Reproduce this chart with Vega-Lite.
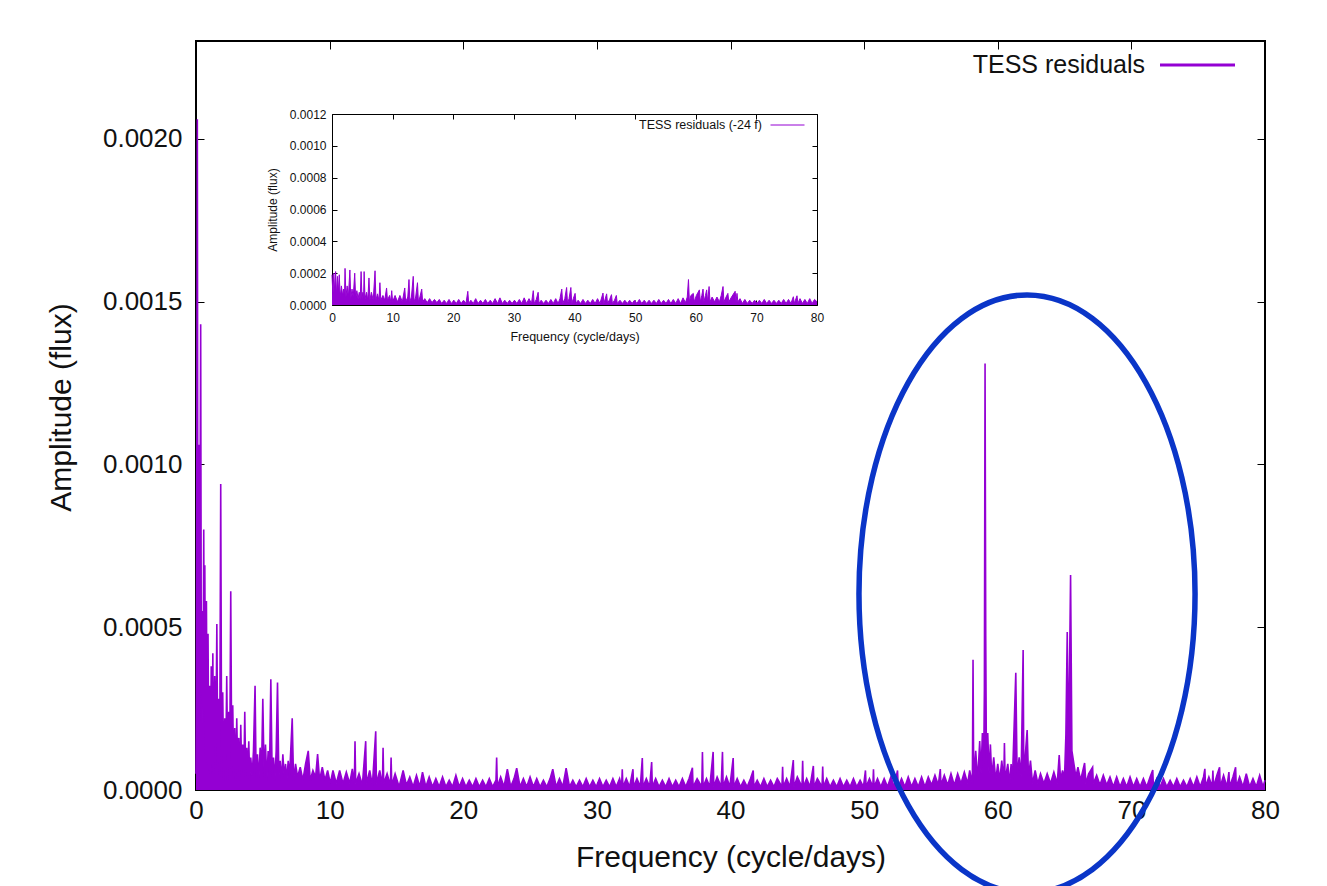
{
  "$schema": "https://vega.github.io/schema/vega-lite/v6.json",
  "width": 1069,
  "height": 749,
  "autosize": "none",
  "padding": {"left": 196, "top": 41, "right": 62, "bottom": 96},
  "background": "white",
  "config": {
    "font": "Liberation Sans",
    "view": {"stroke": "#000", "strokeWidth": 2},
    "axis": {"grid": false, "domain": false, "tickColor": "#000", "tickWidth": 1, "labelColor": "#111", "titleColor": "#111", "labelFont": "Liberation Sans", "titleFont": "Liberation Sans", "titleFontWeight": "normal", "labelOverlap": false, "labelFlush": false, "domainColor": "#000", "domainWidth": 1}
  },
  "datasets": {
    "main": [
      {"f":0,"a":5e-5},{"f":0.03,"a":30e-5},{"f":0.1,"a":206e-5},{"f":0.15,"a":25e-5},{"f":0.2,"a":106e-5},{"f":0.24,"a":20e-5},{"f":0.3,"a":80e-5},{"f":0.35,"a":143e-5},{"f":0.4,"a":30e-5},{"f":0.46,"a":55e-5},{"f":0.52,"a":20e-5},{"f":0.58,"a":80e-5},{"f":0.62,"a":25e-5},{"f":0.66,"a":69e-5},{"f":0.72,"a":10e-5},{"f":0.78,"a":58e-5},{"f":0.84,"a":8e-5},{"f":0.9,"a":48e-5},{"f":0.96,"a":6e-5},{"f":1.02,"a":32e-5},{"f":1.08,"a":5e-5},{"f":1.14,"a":38e-5},{"f":1.2,"a":8e-5},{"f":1.26,"a":42e-5},{"f":1.32,"a":5e-5},{"f":1.4,"a":35e-5},{"f":1.48,"a":9e-5},{"f":1.56,"a":51e-5},{"f":1.63,"a":7e-5},{"f":1.7,"a":28e-5},{"f":1.77,"a":4e-5},{"f":1.85,"a":94e-5},{"f":1.92,"a":6e-5},{"f":2,"a":30e-5},{"f":2.08,"a":3e-5},{"f":2.15,"a":22e-5},{"f":2.22,"a":5e-5},{"f":2.3,"a":35e-5},{"f":2.38,"a":3e-5},{"f":2.45,"a":24e-5},{"f":2.52,"a":6e-5},{"f":2.6,"a":61e-5},{"f":2.68,"a":4e-5},{"f":2.75,"a":26e-5},{"f":2.82,"a":5e-5},{"f":2.9,"a":19e-5},{"f":2.98,"a":3e-5},{"f":3.05,"a":22e-5},{"f":3.12,"a":6e-5},{"f":3.2,"a":16e-5},{"f":3.28,"a":3e-5},{"f":3.35,"a":20e-5},{"f":3.42,"a":5e-5},{"f":3.5,"a":14e-5},{"f":3.58,"a":4e-5},{"f":3.65,"a":24e-5},{"f":3.72,"a":4e-5},{"f":3.8,"a":13e-5},{"f":3.88,"a":5e-5},{"f":3.95,"a":15e-5},{"f":4.02,"a":3e-5},{"f":4.1,"a":10e-5},{"f":4.2,"a":4e-5},{"f":4.3,"a":12e-5},{"f":4.42,"a":32e-5},{"f":4.5,"a":4e-5},{"f":4.6,"a":11e-5},{"f":4.7,"a":3e-5},{"f":4.8,"a":13e-5},{"f":4.9,"a":5e-5},{"f":5,"a":28e-5},{"f":5.1,"a":4e-5},{"f":5.2,"a":14e-5},{"f":5.3,"a":3e-5},{"f":5.4,"a":12e-5},{"f":5.5,"a":5e-5},{"f":5.6,"a":34e-5},{"f":5.7,"a":4e-5},{"f":5.8,"a":10e-5},{"f":5.9,"a":3e-5},{"f":6,"a":12e-5},{"f":6.1,"a":33e-5},{"f":6.2,"a":4e-5},{"f":6.3,"a":9e-5},{"f":6.4,"a":3e-5},{"f":6.5,"a":11e-5},{"f":6.6,"a":4e-5},{"f":6.7,"a":8e-5},{"f":6.8,"a":3e-5},{"f":6.9,"a":9e-5},{"f":7,"a":4e-5},{"f":7.2,"a":22e-5},{"f":7.3,"a":3e-5},{"f":7.45,"a":8e-5},{"f":7.6,"a":4e-5},{"f":7.8,"a":7e-5},{"f":8,"a":3e-5},{"f":8.2,"a":8e-5},{"f":8.4,"a":12e-5},{"f":8.55,"a":3e-5},{"f":8.75,"a":6e-5},{"f":8.95,"a":4e-5},{"f":9.1,"a":11e-5},{"f":9.25,"a":3e-5},{"f":9.45,"a":7e-5},{"f":9.65,"a":3e-5},{"f":9.85,"a":6e-5},{"f":10.05,"a":2e-5},{"f":10.25,"a":6e-5},
      {"f":10.5,"a":2e-5},{"f":10.75,"a":6e-5},{"f":11,"a":2e-5},{"f":11.25,"a":5.5e-5},{"f":11.5,"a":2e-5},{"f":11.7,"a":6.5e-5},{"f":11.85,"a":2e-5},{"f":11.9,"a":15e-5},{"f":11.95,"a":2e-5},{"f":12.2,"a":5e-5},{"f":12.45,"a":1.5e-5},{"f":12.7,"a":15e-5},{"f":12.75,"a":2e-5},{"f":13,"a":6e-5},{"f":13.2,"a":1.5e-5},{"f":13.45,"a":18e-5},{"f":13.5,"a":2e-5},{"f":13.75,"a":6e-5},{"f":13.95,"a":1.5e-5},{"f":14,"a":13e-5},{"f":14.05,"a":2e-5},{"f":14.3,"a":5e-5},{"f":14.55,"a":1.5e-5},{"f":14.6,"a":10e-5},{"f":14.65,"a":1.5e-5},{"f":14.9,"a":5e-5},{"f":15.2,"a":1e-5},{"f":15.5,"a":6e-5},{"f":15.75,"a":1.5e-5},{"f":16,"a":4e-5},{"f":16.25,"a":1e-5},{"f":16.5,"a":4.5e-5},{"f":16.75,"a":1e-5},{"f":16.95,"a":5.5e-5},{"f":17.2,"a":1e-5},{"f":17.45,"a":4e-5},{"f":17.7,"a":1e-5},{"f":17.95,"a":3.5e-5},{"f":18.2,"a":1e-5},{"f":18.45,"a":4e-5},{"f":18.7,"a":1e-5},{"f":18.95,"a":3e-5},{"f":19.2,"a":1e-5},{"f":19.45,"a":4.5e-5},{"f":19.7,"a":1e-5},{"f":19.95,"a":3.5e-5},{"f":20.2,"a":1e-5},{"f":20.45,"a":3e-5},{"f":20.7,"a":1e-5},{"f":20.95,"a":3.5e-5},{"f":21.2,"a":1e-5},{"f":21.45,"a":3e-5},{"f":21.7,"a":1e-5},{"f":21.95,"a":3.5e-5},{"f":22.2,"a":1e-5},{"f":22.45,"a":3e-5},{"f":22.5,"a":10e-5},{"f":22.55,"a":1e-5},{"f":22.8,"a":4e-5},{"f":23.05,"a":1e-5},{"f":23.3,"a":6.4e-5},{"f":23.55,"a":1e-5},{"f":23.8,"a":3.5e-5},{"f":24,"a":6.7e-5},{"f":24.25,"a":1e-5},{"f":24.5,"a":3.5e-5},{"f":24.75,"a":1e-5},{"f":25,"a":4e-5},{"f":25.25,"a":1e-5},{"f":25.5,"a":3.5e-5},{"f":25.75,"a":1e-5},{"f":26,"a":3e-5},{"f":26.25,"a":1e-5},{"f":26.5,"a":3.5e-5},{"f":26.7,"a":6.4e-5},{"f":26.95,"a":1e-5},{"f":27.2,"a":3.5e-5},{"f":27.45,"a":1e-5},{"f":27.7,"a":6.7e-5},{"f":27.95,"a":1e-5},{"f":28.2,"a":3e-5},{"f":28.45,"a":1e-5},{"f":28.7,"a":3e-5},{"f":28.95,"a":1e-5},{"f":29.2,"a":3.5e-5},{"f":29.45,"a":1e-5},{"f":29.7,"a":3e-5},{"f":29.95,"a":1e-5},{"f":30.2,"a":3.5e-5},{"f":30.45,"a":1e-5},{"f":30.7,"a":3e-5},{"f":30.95,"a":1e-5},{"f":31.2,"a":3.5e-5},{"f":31.45,"a":1e-5},{"f":31.7,"a":3.5e-5},{"f":31.85,"a":1e-5},{"f":31.9,"a":6.4e-5},{"f":31.95,"a":1e-5},{"f":32.2,"a":3.5e-5},{"f":32.45,"a":1e-5},{"f":32.7,"a":6.4e-5},{"f":32.75,"a":1e-5},{"f":33,"a":3.5e-5},{"f":33.25,"a":1e-5},{"f":33.4,"a":9.8e-5},{"f":33.45,"a":1e-5},{"f":33.7,"a":3.5e-5},{"f":33.95,"a":1e-5},{"f":34.1,"a":8.6e-5},{"f":34.15,"a":1e-5},{"f":34.4,"a":3.5e-5},{"f":34.65,"a":1e-5},{"f":34.9,"a":3e-5},{"f":35.15,"a":1e-5},{"f":35.4,"a":3.5e-5},{"f":35.65,"a":1e-5},{"f":35.9,"a":3e-5},{"f":36.15,"a":1e-5},{"f":36.4,"a":3.5e-5},{"f":36.65,"a":1e-5},{"f":36.9,"a":3.5e-5},{"f":37.15,"a":6.8e-5},{"f":37.2,"a":1e-5},{"f":37.5,"a":3.5e-5},{"f":37.85,"a":1e-5},{"f":37.9,"a":11.7e-5},{"f":37.95,"a":1e-5},{"f":38.2,"a":3.5e-5},{"f":38.45,"a":1e-5},{"f":38.7,"a":11.7e-5},{"f":38.75,"a":1e-5},{"f":39,"a":4e-5},{"f":39.3,"a":1e-5},{"f":39.4,"a":11.7e-5},{"f":39.45,"a":1e-5},{"f":39.7,"a":4e-5},{"f":39.95,"a":1e-5},{"f":40.2,"a":9.8e-5},{"f":40.25,"a":1e-5},{"f":40.5,"a":3.5e-5},{"f":40.75,"a":1e-5},{"f":41,"a":3e-5},{"f":41.25,"a":1e-5},{"f":41.5,"a":3.5e-5},{"f":41.7,"a":6e-5},{"f":41.75,"a":1e-5},{"f":42,"a":3e-5},{"f":42.25,"a":1e-5},{"f":42.5,"a":3.5e-5},{"f":42.75,"a":1e-5},{"f":43,"a":3e-5},{"f":43.25,"a":1e-5},{"f":43.5,"a":3.5e-5},{"f":43.85,"a":1e-5},{"f":43.9,"a":7.1e-5},{"f":43.95,"a":1e-5},{"f":44.2,"a":3.5e-5},{"f":44.45,"a":1e-5},{"f":44.7,"a":9.2e-5},{"f":44.75,"a":1e-5},{"f":45,"a":4e-5},{"f":45.35,"a":1e-5},{"f":45.4,"a":9e-5},{"f":45.45,"a":1e-5},{"f":45.7,"a":3.5e-5},{"f":45.95,"a":1e-5},{"f":46.2,"a":7.4e-5},{"f":46.25,"a":1e-5},{"f":46.5,"a":3.5e-5},{"f":46.85,"a":1e-5},{"f":46.9,"a":7.2e-5},{"f":46.95,"a":1e-5},{"f":47.2,"a":3.5e-5},{"f":47.45,"a":1e-5},{"f":47.7,"a":3e-5},{"f":47.95,"a":1e-5},{"f":48.2,"a":3.5e-5},{"f":48.45,"a":1e-5},{"f":48.7,"a":3e-5},{"f":48.95,"a":1e-5},{"f":49.2,"a":3.5e-5},{"f":49.45,"a":1e-5},{"f":49.7,"a":3e-5},{"f":49.95,"a":1e-5},{"f":50.1,"a":6e-5},{"f":50.15,"a":1e-5},{"f":50.4,"a":3.5e-5},{"f":50.65,"a":1e-5},{"f":50.7,"a":6.4e-5},{"f":50.75,"a":1e-5},{"f":51,"a":3.5e-5},{"f":51.25,"a":1e-5},{"f":51.5,"a":3.5e-5},{"f":51.75,"a":1e-5},{"f":52,"a":4e-5},{"f":52.25,"a":1e-5},{"f":52.5,"a":6e-5},{"f":52.55,"a":1e-5},{"f":52.8,"a":3.5e-5},{"f":53.05,"a":1e-5},{"f":53.3,"a":4e-5},{"f":53.55,"a":1e-5},{"f":53.8,"a":3.5e-5},{"f":54.05,"a":1e-5},{"f":54.3,"a":4e-5},{"f":54.55,"a":1e-5},{"f":54.8,"a":4e-5},{"f":55.05,"a":1.5e-5},{"f":55.3,"a":4.5e-5},{"f":55.55,"a":1.5e-5},{"f":55.7,"a":6.4e-5},{"f":55.75,"a":1.5e-5},{"f":56,"a":4.5e-5},{"f":56.25,"a":1.5e-5},{"f":56.5,"a":5e-5},{"f":56.75,"a":1.5e-5},{"f":57,"a":5e-5},{"f":57.25,"a":2e-5},{"f":57.5,"a":5.5e-5},{"f":57.75,"a":2e-5},{"f":57.9,"a":6e-5},{"f":58.1,"a":2e-5},{"f":58.15,"a":40e-5},{"f":58.2,"a":3e-5},{"f":58.35,"a":12e-5},{"f":58.5,"a":3e-5},{"f":58.65,"a":15e-5},{"f":58.75,"a":5e-5},{"f":58.85,"a":17.5e-5},{"f":58.95,"a":8e-5},{"f":59,"a":31e-5},{"f":59.05,"a":131e-5},{"f":59.1,"a":47.6e-5},{"f":59.15,"a":10e-5},{"f":59.25,"a":17.5e-5},{"f":59.35,"a":5e-5},{"f":59.45,"a":14e-5},{"f":59.55,"a":4e-5},{"f":59.7,"a":10e-5},{"f":59.85,"a":3e-5},{"f":60,"a":8e-5},{"f":60.15,"a":3e-5},{"f":60.3,"a":9e-5},{"f":60.45,"a":3e-5},{"f":60.5,"a":14.4e-5},{"f":60.55,"a":3e-5},{"f":60.75,"a":8e-5},{"f":60.9,"a":2e-5},{"f":61,"a":8e-5},{"f":61.1,"a":3e-5},{"f":61.35,"a":36e-5},{"f":61.45,"a":4e-5},{"f":61.6,"a":10e-5},{"f":61.75,"a":4e-5},{"f":61.9,"a":43e-5},{"f":61.95,"a":5e-5},{"f":62.05,"a":10e-5},{"f":62.2,"a":18.4e-5},{"f":62.3,"a":4e-5},{"f":62.45,"a":9e-5},{"f":62.6,"a":2e-5},{"f":62.8,"a":6e-5},{"f":63,"a":2e-5},{"f":63.2,"a":5e-5},{"f":63.45,"a":2e-5},{"f":63.7,"a":5e-5},{"f":63.95,"a":2e-5},{"f":64.2,"a":5.5e-5},{"f":64.45,"a":2e-5},{"f":64.6,"a":10.7e-5},{"f":64.7,"a":3e-5},{"f":64.85,"a":6e-5},{"f":65,"a":4e-5},{"f":65.1,"a":17e-5},{"f":65.2,"a":48.5e-5},{"f":65.3,"a":10e-5},{"f":65.45,"a":66e-5},{"f":65.55,"a":12e-5},{"f":65.7,"a":8e-5},{"f":65.85,"a":4e-5},{"f":66,"a":7e-5},{"f":66.2,"a":3e-5},{"f":66.5,"a":8.3e-5},{"f":66.6,"a":2e-5},{"f":66.8,"a":5e-5},{"f":67.1,"a":7e-5},{"f":67.15,"a":2e-5},{"f":67.4,"a":4.5e-5},{"f":67.65,"a":1.5e-5},{"f":67.9,"a":4.5e-5},{"f":68.15,"a":1.5e-5},{"f":68.4,"a":4e-5},{"f":68.65,"a":1e-5},{"f":68.9,"a":4e-5},{"f":69.15,"a":1e-5},{"f":69.4,"a":3.5e-5},{"f":69.65,"a":1e-5},{"f":69.9,"a":4e-5},{"f":70.15,"a":1e-5},{"f":70.4,"a":3.5e-5},{"f":70.65,"a":1e-5},{"f":70.9,"a":3.5e-5},{"f":71.15,"a":1e-5},{"f":71.4,"a":4e-5},{"f":71.6,"a":6.1e-5},{"f":71.65,"a":1e-5},{"f":71.9,"a":3.5e-5},{"f":72.15,"a":1e-5},{"f":72.4,"a":3.5e-5},{"f":72.65,"a":1e-5},{"f":72.9,"a":3e-5},{"f":73.15,"a":1e-5},{"f":73.4,"a":3.5e-5},{"f":73.65,"a":1e-5},{"f":73.9,"a":3e-5},{"f":74.15,"a":1e-5},{"f":74.4,"a":3.5e-5},{"f":74.65,"a":1e-5},{"f":74.9,"a":4e-5},{"f":75.15,"a":1e-5},{"f":75.4,"a":4e-5},{"f":75.5,"a":6.5e-5},{"f":75.55,"a":1e-5},{"f":75.8,"a":4e-5},{"f":76.05,"a":1e-5},{"f":76.1,"a":6e-5},{"f":76.15,"a":1e-5},{"f":76.4,"a":4.5e-5},{"f":76.6,"a":7e-5},{"f":76.65,"a":1e-5},{"f":76.9,"a":4.5e-5},{"f":77.15,"a":1e-5},{"f":77.3,"a":5.5e-5},{"f":77.35,"a":1e-5},{"f":77.6,"a":4e-5},{"f":77.8,"a":7e-5},{"f":77.85,"a":1e-5},{"f":78.1,"a":4e-5},{"f":78.35,"a":1e-5},{"f":78.6,"a":5e-5},{"f":78.85,"a":1e-5},{"f":79.1,"a":3.5e-5},{"f":79.35,"a":1e-5},{"f":79.6,"a":4.5e-5},{"f":79.85,"a":1e-5},{"f":80,"a":3e-5}
    ],
    "inset": [
      {"f":0,"a":19e-5},{"f":0.15,"a":6e-5},{"f":0.3,"a":20e-5},{"f":0.45,"a":8e-5},{"f":0.6,"a":21e-5},{"f":0.75,"a":6e-5},{"f":0.9,"a":18e-5},{"f":1.05,"a":8e-5},{"f":1.2,"a":19e-5},{"f":1.35,"a":5e-5},{"f":1.55,"a":12e-5},{"f":1.75,"a":6e-5},{"f":1.9,"a":10e-5},{"f":2.05,"a":4e-5},{"f":2.15,"a":23e-5},{"f":2.3,"a":5e-5},{"f":2.5,"a":12e-5},{"f":2.7,"a":5e-5},{"f":2.95,"a":22e-5},{"f":3.1,"a":4e-5},{"f":3.3,"a":10e-5},{"f":3.5,"a":5e-5},{"f":3.75,"a":20e-5},{"f":3.9,"a":4e-5},{"f":4.1,"a":9e-5},{"f":4.3,"a":4e-5},{"f":4.5,"a":8e-5},{"f":4.65,"a":3e-5},{"f":4.8,"a":21e-5},{"f":4.95,"a":4e-5},{"f":5.1,"a":8e-5},{"f":5.2,"a":3e-5},{"f":5.3,"a":21e-5},{"f":5.45,"a":4e-5},{"f":5.7,"a":8e-5},{"f":5.9,"a":3e-5},{"f":6.1,"a":17e-5},{"f":6.25,"a":3e-5},{"f":6.5,"a":8e-5},{"f":6.8,"a":3e-5},{"f":7.1,"a":21.5e-5},{"f":7.25,"a":3e-5},{"f":7.5,"a":7e-5},{"f":7.75,"a":3e-5},{"f":7.9,"a":14e-5},{"f":8.05,"a":3e-5},{"f":8.4,"a":6e-5},{"f":8.7,"a":3e-5},{"f":9,"a":10.7e-5},{"f":9.15,"a":3e-5},{"f":9.5,"a":6e-5},{"f":9.7,"a":2e-5},{"f":9.85,"a":9e-5},{"f":10,"a":2e-5},{"f":10.4,"a":6e-5},{"f":10.8,"a":2e-5},{"f":11.2,"a":6e-5},{"f":11.6,"a":2e-5},{"f":12,"a":10.7e-5},{"f":12.15,"a":2e-5},{"f":12.5,"a":5e-5},{"f":12.7,"a":16e-5},{"f":12.85,"a":2e-5},{"f":13.1,"a":5e-5},{"f":13.4,"a":18e-5},{"f":13.55,"a":2e-5},{"f":13.8,"a":5e-5},{"f":14.1,"a":14e-5},{"f":14.25,"a":2e-5},{"f":14.5,"a":5e-5},{"f":14.8,"a":10e-5},{"f":14.95,"a":2e-5},{"f":15.3,"a":4e-5},{"f":15.7,"a":1.5e-5},{"f":16.1,"a":4e-5},{"f":16.5,"a":1.5e-5},{"f":16.9,"a":3.5e-5},{"f":17.3,"a":1.5e-5},{"f":17.7,"a":3.5e-5},{"f":18.1,"a":1e-5},{"f":18.5,"a":3e-5},{"f":18.9,"a":1e-5},{"f":19.3,"a":3.5e-5},{"f":19.7,"a":1e-5},{"f":20.1,"a":3e-5},{"f":20.5,"a":1e-5},{"f":20.9,"a":3.5e-5},{"f":21.3,"a":1e-5},{"f":21.7,"a":3e-5},{"f":22.1,"a":1e-5},{"f":22.4,"a":8.6e-5},{"f":22.55,"a":1e-5},{"f":22.9,"a":3e-5},{"f":23.3,"a":1e-5},{"f":23.7,"a":4e-5},{"f":24.1,"a":1e-5},{"f":24.5,"a":3e-5},{"f":24.9,"a":1e-5},{"f":25.3,"a":3.5e-5},{"f":25.7,"a":1e-5},{"f":26.1,"a":3e-5},{"f":26.5,"a":1e-5},{"f":26.9,"a":4e-5},{"f":27.3,"a":1e-5},{"f":27.7,"a":4.5e-5},{"f":28.1,"a":1e-5},{"f":28.5,"a":3e-5},{"f":28.9,"a":1e-5},{"f":29.3,"a":3e-5},{"f":29.7,"a":1e-5},{"f":30.1,"a":3e-5},{"f":30.5,"a":1e-5},{"f":30.9,"a":3.5e-5},{"f":31.3,"a":1e-5},{"f":31.7,"a":4.5e-5},{"f":32.1,"a":1e-5},{"f":32.5,"a":4e-5},{"f":32.9,"a":1e-5},{"f":33.2,"a":9e-5},{"f":33.35,"a":1e-5},{"f":33.7,"a":3.5e-5},{"f":34,"a":8e-5},{"f":34.15,"a":1e-5},{"f":34.5,"a":3e-5},{"f":34.9,"a":1e-5},{"f":35.3,"a":3e-5},{"f":35.7,"a":1e-5},{"f":36.1,"a":3.5e-5},{"f":36.5,"a":1e-5},{"f":36.9,"a":4e-5},{"f":37.3,"a":1e-5},{"f":37.6,"a":4e-5},{"f":37.9,"a":10e-5},{"f":38.05,"a":1e-5},{"f":38.4,"a":4e-5},{"f":38.7,"a":11e-5},{"f":38.85,"a":1e-5},{"f":39.1,"a":4e-5},{"f":39.4,"a":11e-5},{"f":39.55,"a":1e-5},{"f":39.8,"a":4e-5},{"f":40.1,"a":7.3e-5},{"f":40.25,"a":1e-5},{"f":40.6,"a":3e-5},{"f":41,"a":1e-5},{"f":41.4,"a":3.5e-5},{"f":41.8,"a":1e-5},{"f":42.2,"a":3e-5},{"f":42.6,"a":1e-5},{"f":43,"a":3.5e-5},{"f":43.4,"a":1e-5},{"f":43.8,"a":4e-5},{"f":44.2,"a":1e-5},{"f":44.7,"a":7.5e-5},{"f":44.85,"a":1e-5},{"f":45.3,"a":7e-5},{"f":45.45,"a":1e-5},{"f":45.8,"a":3.5e-5},{"f":46.1,"a":6.5e-5},{"f":46.25,"a":1e-5},{"f":46.6,"a":3e-5},{"f":46.9,"a":6e-5},{"f":47.05,"a":1e-5},{"f":47.5,"a":3e-5},{"f":47.9,"a":1e-5},{"f":48.3,"a":3e-5},{"f":48.7,"a":1e-5},{"f":49.1,"a":3e-5},{"f":49.5,"a":1e-5},{"f":49.9,"a":3e-5},{"f":50.3,"a":1e-5},{"f":50.7,"a":3.5e-5},{"f":51.1,"a":1e-5},{"f":51.5,"a":3e-5},{"f":51.9,"a":1e-5},{"f":52.3,"a":3e-5},{"f":52.7,"a":1e-5},{"f":53.1,"a":3e-5},{"f":53.5,"a":1e-5},{"f":53.9,"a":3.5e-5},{"f":54.3,"a":1e-5},{"f":54.7,"a":3e-5},{"f":55.1,"a":1e-5},{"f":55.5,"a":3.5e-5},{"f":55.9,"a":1e-5},{"f":56.3,"a":3.5e-5},{"f":56.7,"a":1e-5},{"f":57.1,"a":4e-5},{"f":57.5,"a":1e-5},{"f":57.9,"a":4.5e-5},{"f":58.3,"a":1.5e-5},{"f":58.6,"a":5e-5},{"f":58.8,"a":16e-5},{"f":58.95,"a":2e-5},{"f":59.2,"a":6e-5},{"f":59.6,"a":7.3e-5},{"f":59.75,"a":2e-5},{"f":60.1,"a":6e-5},{"f":60.6,"a":9.5e-5},{"f":60.75,"a":2e-5},{"f":61,"a":6e-5},{"f":61.2,"a":10e-5},{"f":61.35,"a":2e-5},{"f":61.6,"a":6e-5},{"f":61.8,"a":9.5e-5},{"f":61.95,"a":2e-5},{"f":62.2,"a":11.6e-5},{"f":62.35,"a":2e-5},{"f":62.7,"a":5e-5},{"f":63.1,"a":2e-5},{"f":63.5,"a":5e-5},{"f":63.9,"a":2e-5},{"f":64.2,"a":6e-5},{"f":64.5,"a":11.6e-5},{"f":64.65,"a":2e-5},{"f":65,"a":5e-5},{"f":65.3,"a":7.3e-5},{"f":65.45,"a":2e-5},{"f":65.9,"a":5e-5},{"f":66.5,"a":8.6e-5},{"f":66.65,"a":2e-5},{"f":66.8,"a":7.3e-5},{"f":66.95,"a":2e-5},{"f":67.3,"a":4e-5},{"f":67.7,"a":1e-5},{"f":68.1,"a":3.5e-5},{"f":68.5,"a":1e-5},{"f":68.9,"a":3e-5},{"f":69.3,"a":1e-5},{"f":69.7,"a":3e-5},{"f":70.1,"a":1e-5},{"f":70.5,"a":3e-5},{"f":70.9,"a":1e-5},{"f":71.3,"a":3.5e-5},{"f":71.7,"a":1e-5},{"f":72.1,"a":3e-5},{"f":72.5,"a":1e-5},{"f":72.9,"a":3e-5},{"f":73.3,"a":1e-5},{"f":73.7,"a":3e-5},{"f":74.1,"a":1e-5},{"f":74.5,"a":3.5e-5},{"f":74.9,"a":1e-5},{"f":75.3,"a":3.5e-5},{"f":75.7,"a":1e-5},{"f":76.1,"a":5.2e-5},{"f":76.25,"a":1e-5},{"f":76.7,"a":5.8e-5},{"f":76.85,"a":1e-5},{"f":77.2,"a":4e-5},{"f":77.6,"a":1e-5},{"f":78,"a":3.5e-5},{"f":78.4,"a":1e-5},{"f":78.8,"a":4e-5},{"f":79.2,"a":1e-5},{"f":79.6,"a":3.5e-5},{"f":80,"a":2e-5}
    ]
  },
  "resolve": {
    "scale": {"x": "independent", "y": "independent", "color": "independent"},
    "axis": {"x": "independent", "y": "independent"},
    "legend": {"color": "independent"}
  },
  "layer": [
    {
      "data": {"name": "main"},
      "mark": {"type": "area", "color": "#9400d3"},
      "encoding": {
        "x": {"field": "f", "type": "quantitative", "scale": {"domain": [0, 80], "nice": false, "zero": false}, "axis": null},
        "y": {"field": "a", "type": "quantitative", "scale": {"domain": [0, 0.0023], "nice": false}, "axis": null}
      }
    },
    {
      "data": {"name": "main"},
      "mark": {"type": "line", "strokeWidth": 1.6},
      "encoding": {
        "x": {"field": "f", "type": "quantitative", "scale": {"domain": [0, 80], "nice": false, "zero": false},
          "axis": {"orient": "bottom", "values": [0, 10, 20, 30, 40, 50, 60, 70, 80], "tickSize": -8, "labelPadding": 15, "labelFontSize": 26, "title": "Frequency (cycle/days)", "titleFontSize": 30, "titleY": 76, "titleBaseline": "alphabetic"}},
        "y": {"field": "a", "type": "quantitative", "scale": {"domain": [0, 0.0023], "nice": false},
          "axis": {"orient": "left", "values": [0, 0.0005, 0.001, 0.0015, 0.002], "format": ".4f", "tickSize": -8, "labelPadding": 22, "labelFontSize": 26, "title": "Amplitude (flux)", "titleFontSize": 30, "titleX": -126, "titleY": 366, "titleBaseline": "alphabetic", "titleAngle": 270}},
        "color": {"datum": "TESS residuals", "type": "nominal", "scale": {"range": ["#9400d3"]},
          "legend": {"orient": "none", "legendX": 962.5, "legendY": -15, "title": null, "padding": 0, "symbolType": "stroke", "symbolSize": 5625, "symbolStrokeWidth": 3, "symbolStrokeColor": "#9400d3", "symbolOpacity": 1, "labelAlign": "right", "labelOffset": -91.5, "labelFontSize": 25, "labelFont": "Liberation Sans", "labelColor": "#111", "labelLimit": 0}}
      }
    },
    {
      "data": {"name": "inset"},
      "mark": {"type": "area", "color": "#9400d3"},
      "encoding": {
        "x": {"field": "f", "type": "quantitative", "scale": {"domain": [0, 80], "range": [136, 621], "nice": false, "zero": false},
          "axis": {"orient": "top", "offset": -73, "values": [0, 10, 20, 30, 40, 50, 60, 70, 80], "tickSize": -5, "labels": false, "domain": true, "title": null}},
        "y": {"field": "a", "type": "quantitative", "scale": {"domain": [0, 0.0012], "range": [264, 73], "nice": false},
          "axis": {"orient": "right", "offset": -448, "values": [0, 0.0002, 0.0004, 0.0006, 0.0008, 0.001, 0.0012], "tickSize": -5, "labels": false, "domain": true, "title": null}}
      }
    },
    {
      "data": {"name": "inset"},
      "mark": {"type": "line", "strokeWidth": 1},
      "encoding": {
        "x": {"field": "f", "type": "quantitative", "scale": {"domain": [0, 80], "range": [136, 621], "nice": false, "zero": false},
          "axis": {"orient": "bottom", "offset": -485, "values": [0, 10, 20, 30, 40, 50, 60, 70, 80], "tickSize": -5, "labelPadding": 12, "labelFontSize": 12, "domain": true, "title": "Frequency (cycle/days)", "titleFontSize": 12.5, "titleY": 35, "titleBaseline": "alphabetic"}},
        "y": {"field": "a", "type": "quantitative", "scale": {"domain": [0, 0.0012], "range": [264, 73], "nice": false},
          "axis": {"orient": "left", "offset": -136, "values": [0, 0.0002, 0.0004, 0.0006, 0.0008, 0.001, 0.0012], "format": ".4f", "tickSize": -5, "labelPadding": 11, "labelFontSize": 12, "domain": true, "title": "Amplitude (flux)", "titleFontSize": 12, "titleX": -56, "titleBaseline": "alphabetic", "titleAngle": 270}},
        "color": {"datum": "TESS residuals (-24 f)", "type": "nominal", "scale": {"range": ["#9400d3"]},
          "legend": {"orient": "none", "legendX": 574, "legendY": 66.5, "title": null, "padding": 0, "symbolType": "stroke", "symbolSize": 1156, "symbolStrokeWidth": 1, "symbolStrokeColor": "#9400d3", "symbolOpacity": 1, "labelAlign": "right", "labelOffset": -43, "labelFontSize": 12.5, "labelFont": "Liberation Sans", "labelColor": "#111", "labelLimit": 0}}
      }
    },
    {
      "data": {"values": [{}]},
      "mark": {"type": "point", "shape": "M0,-1C0.31,-1,0.562,-0.5523,0.562,0C0.562,0.5523,0.31,1,0,1C-0.31,1,-0.562,0.5523,-0.562,0C-0.562,-0.5523,-0.31,-1,0,-1Z", "size": 357604, "filled": false, "color": "#0a35c8", "stroke": "#0a35c8", "strokeWidth": 5.5, "opacity": 1},
      "encoding": {
        "x": {"datum": 62.19, "type": "quantitative", "scale": {"domain": [0, 80], "nice": false, "zero": false},
          "axis": {"orient": "top", "values": [0, 10, 20, 30, 40, 50, 60, 70, 80], "tickSize": -8, "labels": false, "title": null}},
        "y": {"datum": 0.000602, "type": "quantitative", "scale": {"domain": [0, 0.0023], "nice": false},
          "axis": {"orient": "right", "values": [0, 0.0005, 0.001, 0.0015, 0.002], "tickSize": -8, "labels": false, "title": null}}
      }
    }
  ]
}
